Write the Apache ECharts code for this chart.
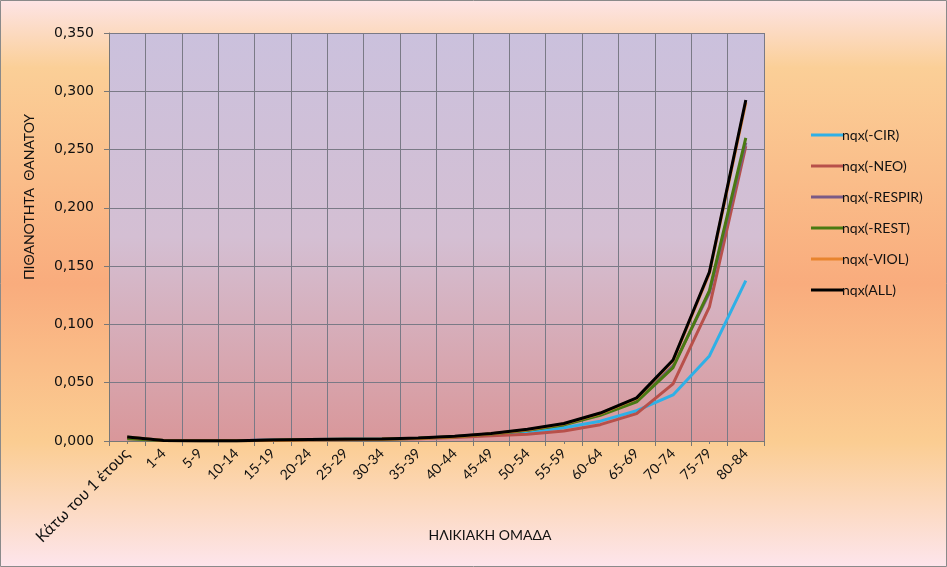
<!DOCTYPE html>
<html><head><meta charset="utf-8">
<script src="https://cdn.jsdelivr.net/npm/echarts@6/dist/echarts.min.js"></script>
<style>html,body{margin:0;padding:0;}#c{width:947px;height:567px;}</style>
</head><body><div id="c"></div>
<script>
const categories = ['Κάτω του 1 έτους','1-4','5-9','10-14','15-19','20-24','25-29','30-34','35-39','40-44','45-49','50-54','55-59','60-64','65-69','70-74','75-79','80-84'];
const cir    = [0.0034,0.0005,0.0003,0.0003,0.0008,0.0012,0.0014,0.0016,0.0022,0.0034,0.0053,0.0078,0.0113,0.0170,0.0260,0.0395,0.0730,0.1375];
const neo    = [0.0033,0.0004,0.0002,0.0002,0.0007,0.0012,0.0013,0.0014,0.0019,0.0029,0.0044,0.0058,0.0085,0.0140,0.0235,0.0490,0.1150,0.2530];
const respir = [0.0033,0.0004,0.0003,0.0003,0.0008,0.0012,0.0014,0.0016,0.0024,0.0038,0.0062,0.0095,0.0142,0.0228,0.0345,0.0645,0.1270,0.2560];
const rest   = [0.0020,0.0004,0.0002,0.0002,0.0007,0.0012,0.0014,0.0016,0.0023,0.0037,0.0060,0.0092,0.0138,0.0220,0.0335,0.0630,0.1290,0.2600];
const viol   = [0.0034,0.0004,0.0002,0.0002,0.0005,0.0009,0.0011,0.0014,0.0022,0.0037,0.0062,0.0097,0.0147,0.0236,0.0365,0.0688,0.1440,0.2905];
const all    = [0.0035,0.0005,0.0003,0.0003,0.0008,0.0013,0.0015,0.0017,0.0025,0.0040,0.0065,0.0100,0.0150,0.0240,0.0370,0.0695,0.1450,0.2925];
const seriesNames = ['nqx(-CIR)','nqx(-NEO)','nqx(-RESPIR)','nqx(-REST)','nqx(-VIOL)','nqx(ALL)'];
const seriesData = [cir, neo, respir, rest, viol, all];
const seriesColors = ['#2fb0e6','#b8504a','#7a5a86','#4a7a12','#e8842e','#000000'];

const font = 'Lato, "Open Sans", sans-serif';
const chart = echarts.init(document.getElementById('c'), null, {renderer:'canvas'});
chart.setOption({
  animation:false,
  backgroundColor:{type:'linear',x:0,y:0,x2:0,y2:1,colorStops:[
    {offset:0,color:'#fde4e6'},{offset:0.12,color:'#fbcf97'},{offset:0.5,color:'#f9ac7d'},
    {offset:0.78,color:'#fbcd92'},{offset:1,color:'#fde5ec'}]},
  grid:{left:109,right:183,top:33,bottom:126,show:true,borderWidth:0,
    backgroundColor:{type:'linear',x:0,y:0,x2:0,y2:1,colorStops:[
      {offset:0,color:'#cbc1dd'},{offset:0.5,color:'#d4bfd3'},{offset:1,color:'#d9979a'}]}},
  legend:{orient:'vertical',left:806,top:123,itemGap:17,itemWidth:32,itemHeight:14,
    icon:'path://M0,6 L32,6 L32,9 L0,9 Z',
    textStyle:{fontFamily:font,fontSize:14,color:'#111',padding:[0,0,0,-6]},
    data:seriesNames},
  xAxis:[{type:'category',data:categories,boundaryGap:true,
    axisLine:{lineStyle:{color:'#777',width:1}},
    axisTick:{show:true,length:5,lineStyle:{color:'#777'}},
    splitLine:{show:true,lineStyle:{color:'#7a7a86',width:1}},
    axisLabel:{rotate:45,fontFamily:font,fontSize:14,color:'#111',margin:10,interval:0,
      formatter:(v,i)=> i===0 ? '{a|'+v+'}' : v,
      rich:{a:{fontFamily:font,fontSize:16,color:'#111'}}}},
    {type:'category',data:categories,boundaryGap:true,position:'bottom',
    axisLine:{show:false},axisTick:{show:true,alignWithLabel:true,length:3,inside:false,lineStyle:{color:'#777'}},
    axisLabel:{show:false},splitLine:{show:false}}],
  yAxis:{type:'value',min:0,max:0.35,interval:0.05,
    axisLine:{show:true,lineStyle:{color:'#777'}},
    axisTick:{show:true,length:5,lineStyle:{color:'#777'}},
    splitLine:{show:true,lineStyle:{color:'#7a7a86',width:1}},
    axisLabel:{fontFamily:'"DejaVu Sans", sans-serif',fontSize:14,color:'#111',margin:15,
      formatter:v=>v.toFixed(3).replace('.',',')}},
  graphic:[
    {type:'text',rotation:Math.PI/2,x:29,y:197,
      style:{text:'ΠΙΘΑΝΟΤΗΤΑ  ΘΑΝΑΤΟΥ',fontFamily:font,fontSize:14,fill:'#111',textAlign:'center',textVerticalAlign:'middle'}},
    {type:'text',x:490,y:535,
      style:{text:'ΗΛΙΚΙΑΚΗ ΟΜΑΔΑ',fontFamily:font,fontSize:14,fill:'#111',textAlign:'center',textVerticalAlign:'middle'}},
    {type:'rect',shape:{x:0.5,y:0.5,width:946,height:566},style:{fill:null,stroke:'#8a8a8a',lineWidth:1},silent:true}
  ],
  series:seriesNames.map((n,i)=>({name:n,type:'line',data:seriesData[i],showSymbol:false,symbol:'none',
    lineStyle:{width:3,color:seriesColors[i]},itemStyle:{color:seriesColors[i]}}))
});
</script></body></html>
